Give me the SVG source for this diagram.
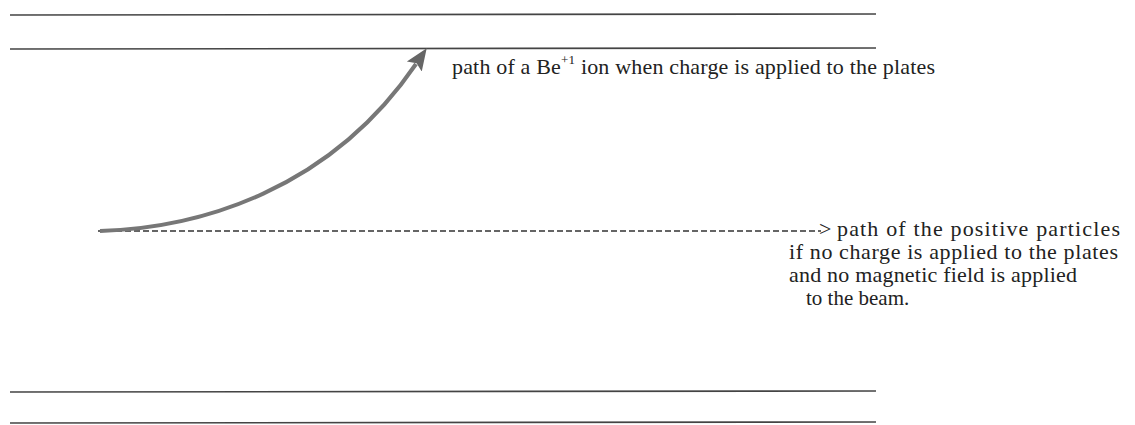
<svg xmlns="http://www.w3.org/2000/svg" width="1135" height="425" viewBox="0 0 1135 425">
<style>
.plate{stroke:#444;stroke-width:1.6;fill:none}
.t{font-family:"Liberation Serif","Times New Roman",serif;font-size:22px;fill:#222}
</style>
<defs>
<marker id="ah" markerWidth="22" markerHeight="20" refX="3" refY="9" orient="auto" markerUnits="userSpaceOnUse" viewBox="0 0 22 18">
<path d="M0,0 L22,9 L0,18 L4,9 z" fill="#666"/>
</marker>
</defs>
<rect width="1135" height="425" fill="#fff"/>
<g id="plates">
<line class="plate" x1="10" y1="15" x2="876" y2="14"/>
<line class="plate" x1="10" y1="49" x2="876" y2="48"/>
<line class="plate" x1="10" y1="392" x2="876" y2="391"/>
<line class="plate" x1="10" y1="423" x2="876" y2="422"/>
</g>
<g id="connectors">
<line x1="98" y1="231" x2="821" y2="231" stroke="#333" stroke-width="1.6" stroke-dasharray="6,3"/>
<path d="M100,231 C200,228 330,190 416,64" stroke="#777" stroke-width="4" fill="none" marker-end="url(#ah)"/>
</g>
<g id="label-ion">
<text class="t" x="452" y="74" textLength="483" lengthAdjust="spacing">path of a Be<tspan dy="-10" font-size="13">+1</tspan><tspan dy="10"> ion when charge is applied to the plates</tspan></text>
</g>
<g id="label-straight">
<text class="t" x="819" y="236">&gt;</text>
<text class="t" x="837" y="236" textLength="283" lengthAdjust="spacing">path of the positive particles</text>
<text class="t" x="789" y="259" textLength="329" lengthAdjust="spacing">if no charge is applied to the plates</text>
<text class="t" x="789" y="282" textLength="288" lengthAdjust="spacing">and no magnetic field is applied</text>
<text class="t" x="806" y="305" style="font-size:21px">to the beam.</text>
</g>
</svg>
